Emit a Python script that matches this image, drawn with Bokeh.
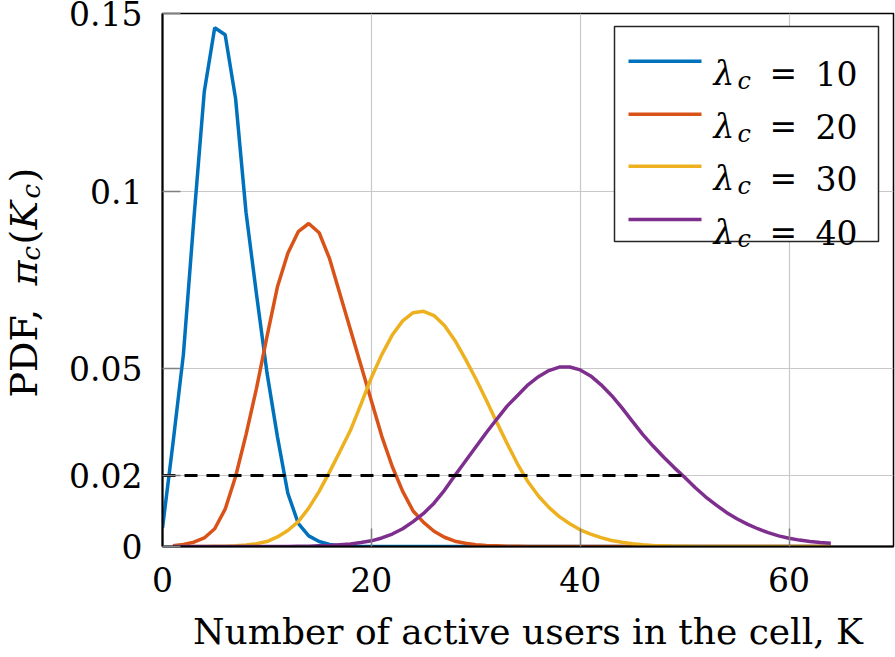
import math
from bokeh.plotting import figure
from bokeh.layouts import row
from bokeh.models import FixedTicker, Label, BoxAnnotation, Arrow, Range1d
from bokeh.embed import file_html
from bokeh.resources import INLINE

# ---------------- data ----------------
k_blue = list(range(0, 65))
pdf_blue = [0.0052, 0.029, 0.054, 0.092, 0.128, 0.146, 0.144, 0.126, 0.094, 0.071,
            0.049, 0.031, 0.015, 0.0065, 0.003, 0.0014, 0.0006, 0.0002, 0.0001] + [0.0] * 46

k_other = list(range(1, 65))
pdf_orange = [0.0002, 0.0006, 0.0012, 0.0024, 0.0050, 0.0105, 0.0197, 0.0315, 0.0445, 0.059,
              0.073, 0.0825, 0.0886, 0.0909, 0.0883, 0.081, 0.071, 0.061, 0.051, 0.041,
              0.031, 0.0225, 0.0155, 0.0100, 0.0068, 0.0043, 0.0026, 0.0015, 0.0009, 0.0005,
              0.0003, 0.0002, 0.0001, 0.0001] + [0.0] * 30
pdf_yellow = [0.0, 0.0, 0.0, 0.0, 0.0001, 0.0001, 0.0002, 0.0004, 0.0008, 0.0014,
              0.0027, 0.0045, 0.0070, 0.0108, 0.0155, 0.0210, 0.0268, 0.0327, 0.0400, 0.0475,
              0.0540, 0.0595, 0.0635, 0.0658, 0.0662, 0.0650, 0.0622, 0.0580, 0.0528, 0.0472,
              0.0412, 0.0350, 0.0290, 0.0232, 0.0182, 0.0142, 0.0110, 0.0084, 0.0064, 0.0047,
              0.0035, 0.0025, 0.0017, 0.0012, 0.0008, 0.0005, 0.0003, 0.0002, 0.0001, 0.0001] + [0.0] * 14
pdf_purple = [0.0] * 12 + [0.0001, 0.0001, 0.0002, 0.0003, 0.0005, 0.0007, 0.0011, 0.0016,
              0.0024, 0.0035, 0.0050, 0.0070, 0.0093, 0.0122, 0.0158, 0.0200, 0.0240, 0.0280,
              0.0320, 0.0358, 0.0395, 0.0425, 0.0455, 0.0478, 0.0495, 0.0505, 0.0505, 0.0497,
              0.0480, 0.0455, 0.0425, 0.0390, 0.0352, 0.0315, 0.0282, 0.0251, 0.0222, 0.0195,
              0.0166, 0.0140, 0.0117, 0.0096, 0.0078, 0.0063, 0.0050, 0.0039, 0.0030, 0.0023,
              0.0018, 0.0014, 0.0011, 0.0009]

threshold_k = [0, 50]
threshold_pdf = [0.02, 0.02]

lambda_labels = ["10", "20", "30", "40"]
x_ticks = [0, 20, 40, 60]
y_ticks = [0, 0.02, 0.05, 0.1, 0.15]
y_tick_labels = ["0", "0.02", "0.05", "0.1", "0.15"]
x_label = "Number of active users in the cell, K"

# ---------------- styles ----------------
colors = ["#0072BD", "#D95319", "#EDB120", "#7E2F8E"]
FONT = "DejaVu Serif"
FS_TICK = "33px"
FS_LAB = "36px"
FS_YLAB = "38px"
FS_SUB = "24px"
FS_YSUB = "26px"
FW, FH = 731, 533
LW = 60  # width of the strip holding the y-axis label

p = figure(frame_width=FW, frame_height=FH, output_backend="svg", toolbar_location=None,
           x_range=Range1d(0, 70), y_range=Range1d(0, 0.15),
           min_border_left=162 - LW, min_border_right=2, min_border_top=13, min_border_bottom=20,
           background_fill_color="white", border_fill_color="white")

series = [(k_blue, pdf_blue), (k_other, pdf_orange), (k_other, pdf_yellow), (k_other, pdf_purple)]
for (kk, vv), c in zip(series, colors):
    p.line(kk, vv, line_color=c, line_width=3.5)

p.line(threshold_k, threshold_pdf, line_color="black", line_width=3, line_dash="13 9")

# axes
p.xaxis.ticker = FixedTicker(ticks=x_ticks)
p.yaxis.ticker = FixedTicker(ticks=y_ticks)
p.yaxis.major_label_overrides = {t: s for t, s in zip(y_ticks, y_tick_labels)}
for ax in (p.xaxis[0], p.yaxis[0]):
    ax.major_label_text_font = FONT
    ax.major_label_text_font_size = FS_TICK
    ax.major_label_text_color = "black"
    ax.axis_line_color = "black"
    ax.axis_line_width = 2
    ax.major_tick_in = 18
    ax.major_tick_out = 0
    ax.major_tick_line_color = "#808080"
    ax.major_tick_line_width = 1.5
    ax.minor_tick_line_color = None
p.xaxis.major_label_standoff = 20
p.yaxis.major_label_standoff = 20
p.xaxis.axis_label = x_label
p.xaxis.axis_label_text_font = FONT
p.xaxis.axis_label_text_font_size = FS_LAB
p.xaxis.axis_label_text_font_style = "normal"
p.xaxis.axis_label_text_color = "black"
p.xaxis.axis_label_standoff = 16

p.xgrid.ticker = FixedTicker(ticks=x_ticks)
p.ygrid.ticker = FixedTicker(ticks=y_ticks)
p.grid.grid_line_color = "#c8c8c8"
p.grid.grid_line_width = 1.2
p.outline_line_color = "black"
p.outline_line_width = 1.5
p.outline_line_alpha = 1.0

# legend (manual, to get the subscript)
p.add_layout(BoxAnnotation(left=452, right=716, bottom=305, top=520,
                           left_units="screen", right_units="screen",
                           bottom_units="screen", top_units="screen",
                           fill_color="white", fill_alpha=1.0,
                           line_color="#262626", line_width=1.5, line_alpha=1.0))
row_y = [485.3, 432.3, 380.3, 327.0]
for lam, c, ry in zip(lambda_labels, colors, row_y):
    p.add_layout(Arrow(start=None, end=None, x_start=466, x_end=539, y_start=ry, y_end=ry,
                       start_units="screen", end_units="screen", line_color=c, line_width=3.5))
    base = ry - 12.6
    common = dict(x_units="screen", y_units="screen", text_font=FONT,
                  text_baseline="alphabetic", text_color="black")
    p.add_layout(Label(x=551, y=base, text="λ", text_font_size=FS_TICK,
                       text_font_style="italic", text_align="left", **common))
    p.add_layout(Label(x=575, y=base - 7, text="c", text_font_size=FS_SUB,
                       text_font_style="italic", text_align="left", **common))
    p.add_layout(Label(x=607, y=base, text="=", text_font_size=FS_TICK,
                       text_font_style="normal", text_align="left", **common))
    p.add_layout(Label(x=695, y=base, text=lam, text_font_size=FS_TICK,
                       text_font_style="normal", text_align="right", **common))

# y-axis label strip: PDF, π_c(K_c), composed of rotated pieces
ylab = figure(width=LW, height=657, output_backend="svg", toolbar_location=None,
              x_range=Range1d(0, 1), y_range=Range1d(0, 1),
              min_border_left=0, min_border_right=0, min_border_top=0, min_border_bottom=0,
              background_fill_color="white", border_fill_color="white")
ylab.axis.visible = False
ylab.grid.visible = False
ylab.outline_line_color = None

ybase = 23
pos = 152
pieces = [("PDF, ", "normal", FS_YLAB, 0, 112),
          ("π", "italic", FS_YLAB, 0, 25),
          ("c", "italic", FS_YSUB, 7, 16),
          ("(", "normal", FS_YLAB, 0, 15),
          ("K", "italic", FS_YLAB, 0, 31),
          ("c", "italic", FS_YSUB, 7, 16),
          (")", "normal", FS_YLAB, 0, 15)]
for txt, style, fs, dx, w in pieces:
    ylab.add_layout(Label(x=ybase + dx, y=pos, x_units="screen", y_units="screen", text=txt,
                          angle=math.pi / 2, text_font=FONT, text_font_size=fs,
                          text_font_style=style, text_align="left", text_baseline="alphabetic",
                          text_color="black"))
    pos += w

layout = row(ylab, p, spacing=0)
open("out.html", "w").write(file_html(layout, INLINE))
